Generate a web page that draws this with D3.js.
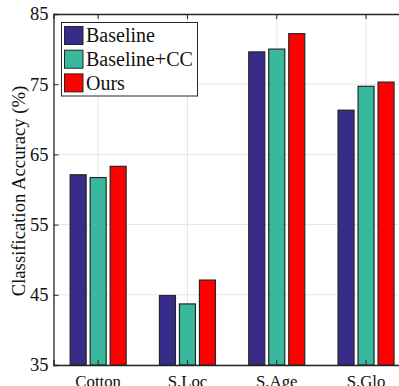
<!DOCTYPE html>
<meta charset="utf-8">
<script src="https://cdn.jsdelivr.net/npm/d3@7"></script>
<style>
  body { margin: 0; background: #fff; }
</style>
<div id="chart"></div>
<script>
  // data
  const categories = ["Cotton", "S.Loc", "S.Age", "S.Glo"];
  const series = ["Baseline", "Baseline+CC", "Ours"];
  const baseline = [62.1, 44.9, 79.6, 71.3];
  const baselineCC = [61.7, 43.7, 80.0, 74.7];
  const ours = [63.3, 47.1, 82.2, 75.3];
  const yTicks = [35, 45, 55, 65, 75, 85];
  const colors = ["#372c87", "#38b99d", "#ff0000"];

  const values = [baseline, baselineCC, ours];
  const FONT = "Liberation Serif";

  const W = 399, H = 386;
  const mLeft = 53.5, mTop = 14, mBottom = 365;

  const svg = d3.select("#chart").append("svg")
    .attr("width", W).attr("height", H)
    .attr("font-family", FONT);

  // band axis runs past the right edge, like the cropped original
  const x = d3.scaleBand().domain(categories).range([mLeft, mLeft + 4 * 89.3]);
  const xs = d3.scaleBand().domain(series).range([-28, 28]).paddingInner(0.2);
  const y = d3.scaleLinear().domain([35, 85]).range([mBottom, mTop]);

  // grid
  svg.append("g").selectAll("line").data(yTicks).join("line")
    .attr("x1", mLeft).attr("x2", W)
    .attr("y1", d => y(d)).attr("y2", d => y(d))
    .attr("stroke", "#e6e6e6").attr("stroke-width", 1);
  svg.append("g").selectAll("line").data(categories).join("line")
    .attr("x1", d => x(d) + x.bandwidth() / 2).attr("x2", d => x(d) + x.bandwidth() / 2)
    .attr("y1", mTop).attr("y2", mBottom)
    .attr("stroke", "#e6e6e6").attr("stroke-width", 1);

  // bars
  series.forEach((s, i) => {
    svg.append("g").selectAll("rect").data(categories).join("rect")
      .attr("x", (c) => x(c) + x.bandwidth() / 2 + xs(s))
      .attr("width", xs.bandwidth())
      .attr("y", (c, j) => y(values[i][j]))
      .attr("height", (c, j) => mBottom - y(values[i][j]))
      .attr("fill", colors[i])
      .attr("stroke", "#262626")
      .attr("stroke-width", 1.2);
  });

  // axes (ticks inward)
  const axisL = svg.append("g").attr("transform", `translate(${mLeft},0)`)
    .call(d3.axisLeft(y).tickValues(yTicks).tickSize(-5).tickPadding(5));
  const axisT = svg.append("g").attr("transform", `translate(0,${mTop})`)
    .call(d3.axisTop(x).tickSize(-5).tickFormat(""));
  const axisB = svg.append("g").attr("transform", `translate(0,${mBottom})`)
    .call(d3.axisBottom(x).tickSize(-5));
  [axisL, axisT, axisB].forEach(a => {
    a.attr("font-family", FONT);
    a.selectAll(".domain").attr("stroke", "#262626").attr("stroke-width", 1.3);
    a.selectAll(".tick line").attr("stroke", "#262626");
    a.selectAll("text").style("font-family", `'${FONT}'`).attr("fill", "#111");
  });
  axisL.selectAll("text").attr("font-size", 18.5);
  axisB.selectAll("text").attr("font-size", 16.8).attr("y", 22).attr("dy", 0);

  // y label
  svg.append("text")
    .attr("transform", `translate(25,${(mTop + mBottom) / 2 + 1.5}) rotate(-90)`)
    .attr("text-anchor", "middle")
    .style("font-family", `'${FONT}'`)
    .attr("font-size", 18.7)
    .attr("fill", "#111")
    .text("Classification Accuracy (%)");

  // legend
  const lg = svg.append("g");
  lg.append("rect").attr("x", 61.5).attr("y", 22.5).attr("width", 136).attr("height", 73.5)
    .attr("fill", "#fff").attr("stroke", "#262626").attr("stroke-width", 1);
  series.forEach((s, i) => {
    const yy = 26.5 + i * 23.7;
    lg.append("rect").attr("x", 64.5).attr("y", yy).attr("width", 18.5).attr("height", 18)
      .attr("fill", colors[i]).attr("stroke", "#262626").attr("stroke-width", 1);
    lg.append("text").attr("x", 86).attr("y", yy + 15.8)
      .style("font-family", `'${FONT}'`)
      .attr("font-size", 20).attr("fill", "#111").text(s);
  });
</script>
